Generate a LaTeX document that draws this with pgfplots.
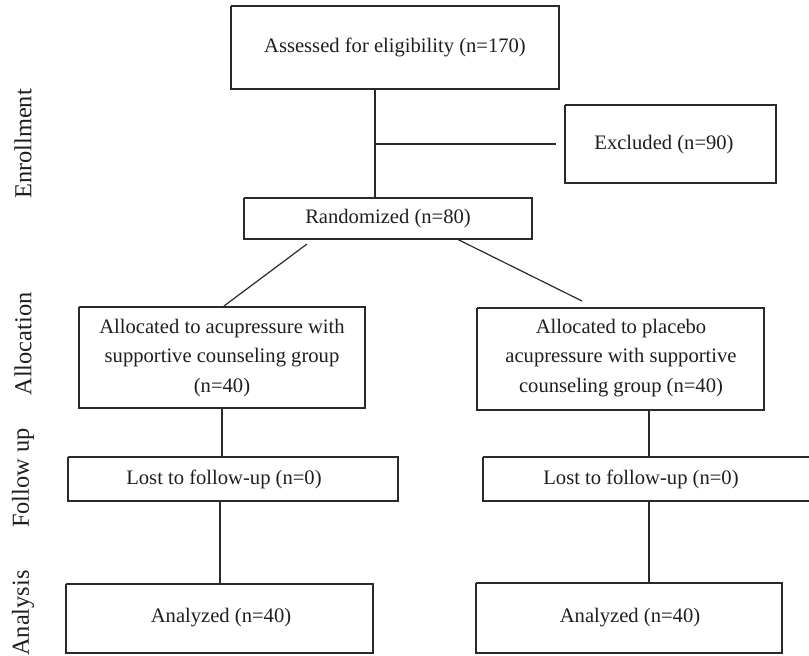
\documentclass[border=0pt]{standalone}
\usepackage{pgfplots}
\pgfplotsset{compat=1.18}
\usepackage{fontspec}
\setmainfont{Liberation Serif}
\definecolor{ln}{HTML}{2A2A2A}
\definecolor{tx}{HTML}{1E1E1E}
\begin{document}
\begin{tikzpicture}
\begin{axis}[
  x=0.5pt, y=0.5pt, y dir=reverse,
  xmin=0, xmax=809, ymin=0, ymax=655,
  scale only axis, hide axis, clip=false,
]
\coordinate (sw) at (axis cs:0,655);
\coordinate (ne) at (axis cs:809,0);
% boxes
\addplot[ln, line width=0.6pt, no marks] coordinates {(231,6) (559,6) (559,89) (231,89) (231,6)};
\addplot[ln, line width=0.6pt, no marks] coordinates {(565,105) (776,105) (776,183) (565,183) (565,105)};
\addplot[ln, line width=0.6pt, no marks] coordinates {(244,198) (532,198) (532,239) (244,239) (244,198)};
\addplot[ln, line width=0.6pt, no marks] coordinates {(79,307) (365,307) (365,408) (79,408) (79,307)};
\addplot[ln, line width=0.6pt, no marks] coordinates {(477,308) (764,308) (764,410) (477,410) (477,308)};
\addplot[ln, line width=0.6pt, no marks] coordinates {(68,457) (398,457) (398,501) (68,501) (68,457)};
\addplot[ln, line width=0.6pt, no marks] coordinates {(483,457) (813,457) (813,501) (483,501) (483,457)};
\addplot[ln, line width=0.6pt, no marks] coordinates {(66,584) (373,584) (373,653) (66,653) (66,584)};
\addplot[ln, line width=0.6pt, no marks] coordinates {(476,583) (782,583) (782,653) (476,653) (476,583)};
% connectors
\addplot[ln, line width=0.6pt, no marks] coordinates {(375,89) (375,198)};
\addplot[ln, line width=0.6pt, no marks] coordinates {(375,144) (556,144)};
\addplot[ln, line width=0.6pt, no marks] coordinates {(307,244) (224,306)};
\addplot[ln, line width=0.6pt, no marks] coordinates {(457,239) (582,301)};
\addplot[ln, line width=0.6pt, no marks] coordinates {(222,408) (222,457)};
\addplot[ln, line width=0.6pt, no marks] coordinates {(649,410) (649,457)};
\addplot[ln, line width=0.6pt, no marks] coordinates {(220,501) (220,584)};
\addplot[ln, line width=0.6pt, no marks] coordinates {(649,501) (649,583)};
% texts
\begin{scope}[every node/.style={text=tx, font=\fontsize{10.3}{14.8}\selectfont, align=center, inner sep=0pt}]
\node at (axis cs:395,47) {Assessed for eligibility (n=170)};
\node at (axis cs:664,145) {Excluded (n=90)};
\node at (axis cs:388,219) {Randomized (n=80)};
\node at (axis cs:222,358) {Allocated to acupressure with\\supportive counseling group\\(n=40)};
\node at (axis cs:621,358) {Allocated to placebo\\acupressure with supportive\\counseling group (n=40)};
\node at (axis cs:224,479) {Lost to follow-up (n=0)};
\node at (axis cs:641,479) {Lost to follow-up (n=0)};
\node at (axis cs:221,618) {Analyzed (n=40)};
\node at (axis cs:630,618) {Analyzed (n=40)};
\end{scope}
\begin{scope}[every node/.style={text=tx, font=\fontsize{12.2}{14}\selectfont, inner sep=0pt, rotate=90}]
\node at (axis cs:23,144) {Enrollment};
\node at (axis cs:23,344) {Allocation};
\node at (axis cs:23,478) {Follow up};
\node at (axis cs:23,613) {Analysis};
\end{scope}
\end{axis}
\pgfresetboundingbox
\path (sw) rectangle (ne);
\end{tikzpicture}
\end{document}
